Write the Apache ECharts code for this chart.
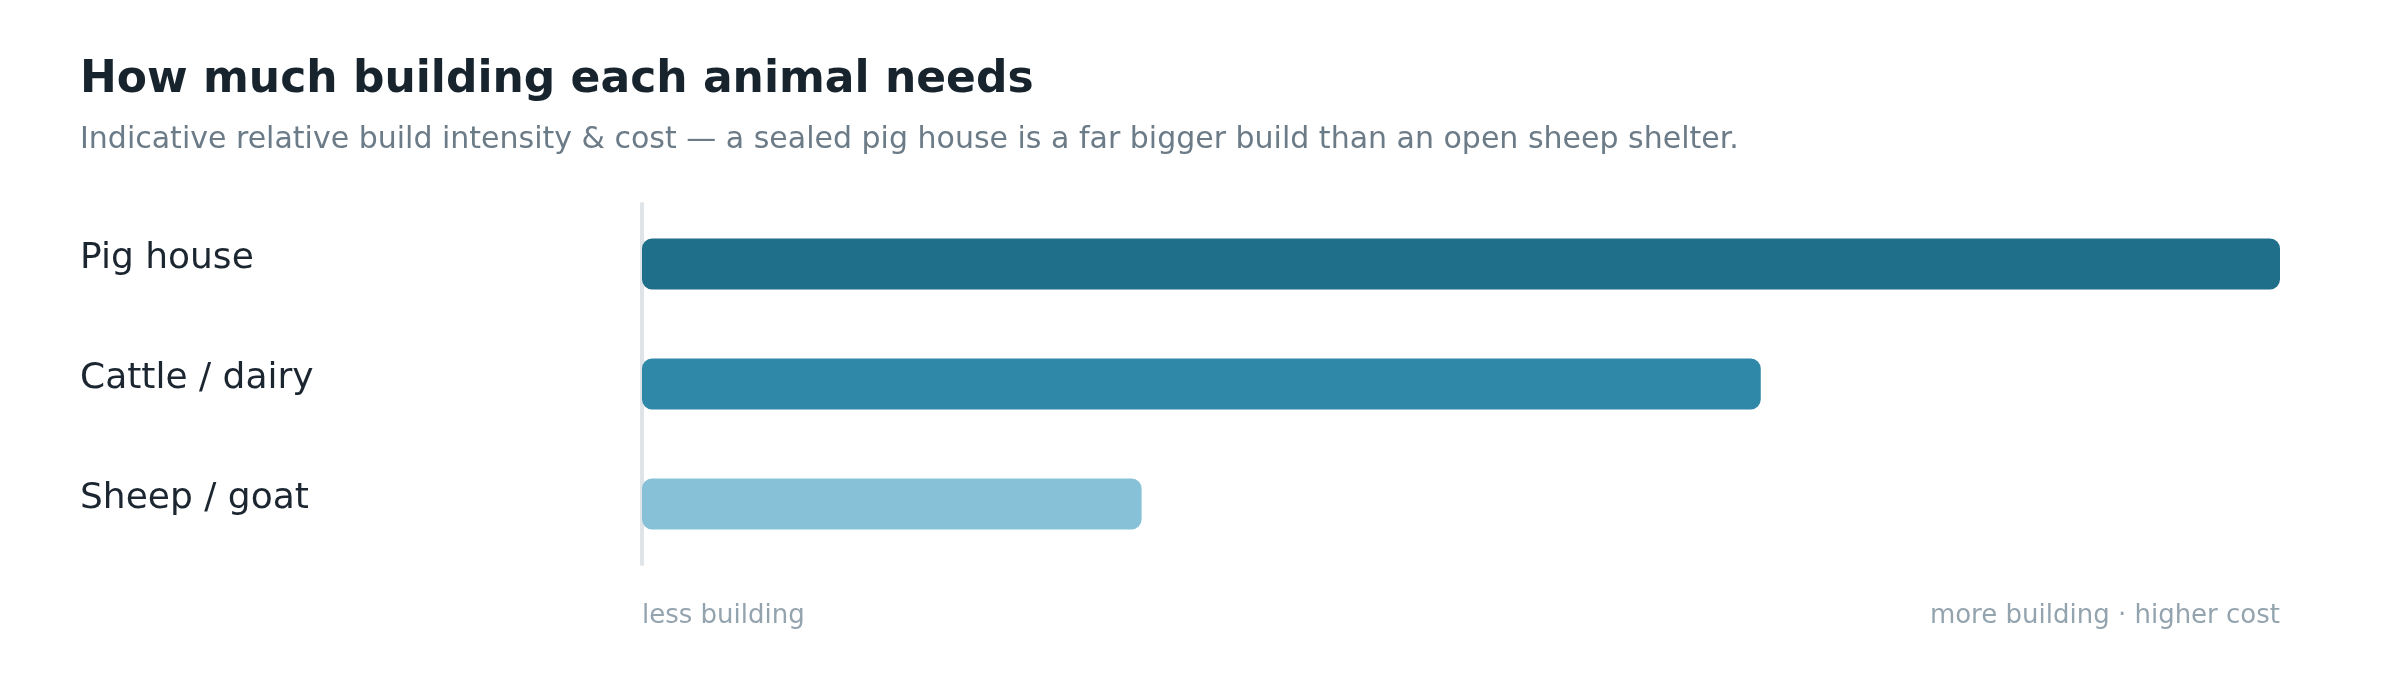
<!DOCTYPE html>
<html>
<head>
<meta charset="utf-8">
<script src="https://cdn.jsdelivr.net/npm/echarts@6/dist/echarts.min.js"></script>
<style>
  html, body { margin: 0; padding: 0; background: #fff; }
  #chart { width: 2400px; height: 680px; }
</style>
</head>
<body>
<div id="chart"></div>
<script>
// data
var animals = ['Pig house', 'Cattle / dairy', 'Sheep / goat'];
var buildIntensity = [100, 68.3, 30.5];
var scaleEnds = ['less building', 'more building · higher cost'];

// one colour per row, darkest for the biggest build
var barColors = ['#206f8a', '#2f88a8', '#87c1d7'];
var font = 'DejaVu Sans';

var chart = echarts.init(document.getElementById('chart'));

var option = {
  backgroundColor: '#fff',
  animation: false,
  textStyle: { fontFamily: font },
  title: {
    text: 'How much building each animal needs',
    subtext: 'Indicative relative build intensity & cost \u2014 a sealed pig house is a far bigger build than an open sheep shelter.',
    left: 80,
    top: 59,
    padding: 0,
    itemGap: 22,
    textStyle: { fontSize: 44, fontWeight: 'bold', color: '#17242e', fontFamily: font },
    subtextStyle: { fontSize: 30, color: '#6b7b87', fontFamily: font }
  },
  grid: {
    left: 642,
    right: 120,
    top: 204,
    height: 360
  },
  xAxis: {
    type: 'value',
    min: 0,
    max: 100,
    show: false
  },
  yAxis: {
    type: 'category',
    data: animals,
    inverse: true,
    offset: 2,
    axisLine: { show: true, lineStyle: { color: '#dfe4e8', width: 4 } },
    axisTick: { show: false },
    splitLine: { show: false },
    axisLabel: {
      align: 'left',
      verticalAlign: 'bottom',
      lineHeight: 10,
      margin: 560,
      fontSize: 36,
      color: '#1b2631',
      fontFamily: font
    }
  },
  series: [{
    type: 'bar',
    barWidth: 51,
    data: buildIntensity.map(function (v, i) {
      return { value: v, itemStyle: { color: barColors[i] } };
    }),
    itemStyle: { borderRadius: 10 }
  }],
  graphic: [
    {
      type: 'text',
      left: 642,
      top: 603,
      style: { text: scaleEnds[0], fontSize: 26, fontFamily: font, fill: '#94a4af' }
    },
    {
      type: 'text',
      right: 120,
      top: 603,
      style: { text: scaleEnds[1], fontSize: 26, fontFamily: font, fill: '#94a4af' }
    }
  ]
};

option && chart.setOption(option);
</script>
</body>
</html>
